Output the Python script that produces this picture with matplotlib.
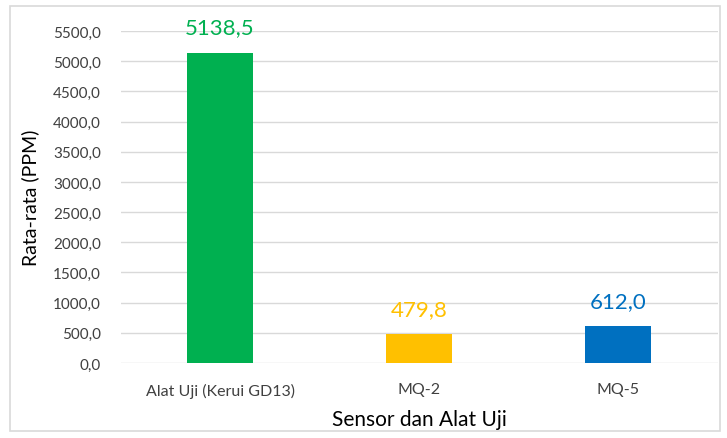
import matplotlib
matplotlib.use("Agg")
import matplotlib.pyplot as plt
from matplotlib.patches import Rectangle
from matplotlib.ticker import FuncFormatter, MultipleLocator

categories = ["Alat Uji (Kerui GD13)", "MQ-2", "MQ-5"]
values = [5138.5, 479.8, 612.0]
colors = ["#00B050", "#FFC000", "#0070C0"]

plt.rcParams['font.family'] = ['Lato', 'DejaVu Sans']

fig = plt.figure(figsize=(7.27, 4.39), dpi=100)
fig.patches.append(Rectangle((10/727, 1-432/439), 710/727, 425/439, transform=fig.transFigure,
                             fill=False, edgecolor="#D9D9D9", linewidth=1.2))
ax = fig.add_axes([120.5/727, 1-364/439, 597/727, 332/439])

x = range(len(categories))
bars = ax.bar(x, values, width=0.33, color=colors, zorder=3)
ax.set_xlim(-0.5, 2.5)
ax.set_ylim(0, 5500)
ax.yaxis.set_major_locator(MultipleLocator(500))
ax.yaxis.set_major_formatter(FuncFormatter(lambda v, p: f"{v:.1f}".replace(".", ",")))
ax.grid(axis="y", color="#D9D9D9", linewidth=1, zorder=0)
for s in ax.spines.values():
    s.set_visible(False)
ax.tick_params(axis="both", length=0, colors="#404040")
ax.tick_params(axis="y", pad=14, labelsize=11)
ax.tick_params(axis="x", pad=14, labelsize=11.5)
ax.set_xticks(list(x))
ax.set_xticklabels(categories)

for b, v, c in zip(bars, values, colors):
    ax.annotate(f"{v:.1f}".replace(".", ","), (b.get_x() + b.get_width()/2, v),
                xytext=(0, 11), textcoords="offset points", ha="center", va="bottom",
                fontsize=16, color=c, annotation_clip=False)

ax.set_xlabel("Sensor dan Alat Uji", fontsize=15, color="#000000", labelpad=8)
ax.set_ylabel("Rata-rata (PPM)", fontsize=14, color="#000000", labelpad=10)

fig.savefig("out.png", dpi=100)
